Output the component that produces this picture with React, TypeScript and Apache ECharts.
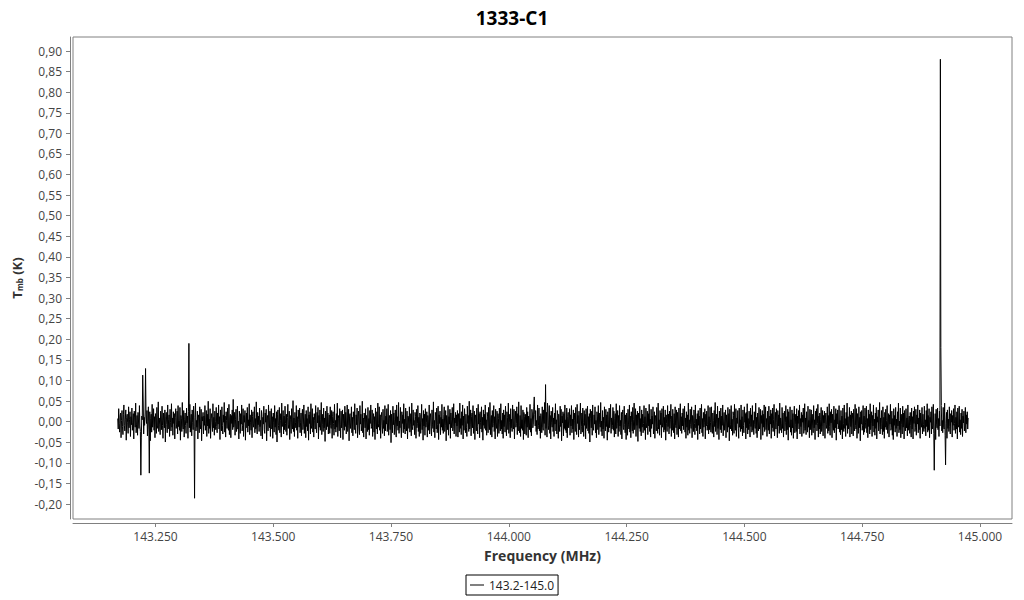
import React, { useEffect, useRef } from "react";
import * as echarts from "echarts";

const TITLE = "1333-C1";
const SERIES_NAME = "143.2-145.0";
const FREQ_START = 143.17; // MHz, first channel
const FREQ_STEP = 0.001; // MHz per channel
const NOISE_UNIT = 0.0015; // K per count in NOISE below
const Y_TICKS = [-0.2, -0.15, -0.1, -0.05, 0, 0.05, 0.1, 0.15, 0.2, 0.25, 0.3, 0.35, 0.4, 0.45, 0.5, 0.55, 0.6, 0.65, 0.7, 0.75, 0.8, 0.85, 0.9];
const X_TICKS = [143.25, 143.5, 143.75, 144.0, 144.25, 144.5, 144.75, 145.0];

// baseline noise, counts of 1.5 mK, one value per channel
const NOISE = [
  5,-12,21,-3,-17,9,14,-26,2,18,-8,-21,11,27,-6,-15,4,19,-30,7,12,-2,-19,24,-10,3,16,-24,8,-5,
  22,-14,-1,13,-28,17,6,-9,30,-18,-4,10,-22,15,1,-11,26,-7,-16,20,-25,9,3,-13,35,-20,7,-6,14,-29,
  11,-3,18,-23,0,24,-12,-8,16,-31,5,12,-17,28,-9,-2,21,-14,8,-26,13,4,-19,23,-7,-11,32,-16,6,-4,
  -21,17,9,-13,25,-6,-27,14,2,-10,19,-33,8,15,-5,-18,27,-12,3,11,-24,20,-1,-15,29,-9,6,-22,16,-3,
  13,-28,7,21,-11,-4,17,-20,26,-8,1,-14,23,-30,10,5,-16,31,-7,-12,18,-25,4,14,-6,-19,22,-2,9,-27,
  16,-5,-10,28,-17,3,12,-23,19,-1,-13,25,-8,-21,7,30,-15,2,-9,17,-28,11,6,-18,24,-4,-12,20,-31,8,
  1,15,-20,9,-6,26,-14,-3,18,-24,12,-7,33,-19,4,-11,21,-27,5,13,-2,-16,29,-10,7,-22,17,0,-13,23,
  -8,-18,14,-4,27,-12,8,-29,19,3,-15,24,-6,-20,11,-1,31,-17,9,-25,16,2,-11,22,-7,-14,28,-21,6,12,
  -26,10,-3,19,-13,36,-9,-5,15,-22,4,20,-16,-8,25,-12,1,-28,17,7,-19,13,-4,27,-15,-6,21,-24,10,-1,
  18,-30,6,14,-10,23,-17,3,-7,29,-21,11,-2,-14,19,-26,8,16,-9,-3,24,-18,5,-12,32,-11,-20,15,-5,9,
  -16,22,-8,2,-23,18,12,-28,7,-4,25,-13,-19,14,-1,20,-31,6,10,-15,27,-7,-10,17,-24,3,21,-12,8,-27,
  14,-2,-17,26,-9,5,-21,16,-33,11,19,-6,-14,23,-18,2,13,-25,30,-8,-4,18,-20,9,-13,25,-3,-16,12,-22,
  7,28,-11,-5,17,-29,10,4,-19,21,-7,-12,34,-16,6,-24,15,-1,-10,26,-14,8,-27,19,3,-9,22,-18,-2,14,
  -23,9,20,-13,-4,27,-19,1,12,-26,18,-8,5,-15,24,-30,11,-3,16,-20,29,-11,-6,21,-17,7,-25,13,2,-12,
  26,-7,-18,15,-2,23,-28,10,-9,19,-14,3,31,-21,-5,12,-16,22,-10,6,-32,17,-1,-13,25,-8,14,-20,4,11,
  -19,24,-6,-11,18,-27,8,16,-3,-22,28,-12,2,-17,13,-9,30,-24,5,10,-15,21,-4,-26,17,-10,6,19,-29,12,
  -3,-14,25,-8,15,-20,1,27,-16,-6,20,-31,9,13,-11,-2,24,-18,7,-23,16,4,-13,29,-9,-19,11,-5,22,-26,
  8,17,-12,-21,26,-4,12,-15,-7,33,-18,6,-25,14,3,-10,21,-28,10,-1,-16,23,-13,5,-22,18,-3,27,-11,-8,
  19,-24,2,13,-17,8,-29,22,-5,-12,16,-20,30,-9,-3,24,-14,11,-27,7,15,-6,-19,20,-11,2,-23,26,-15,9,
  -4,21,-16,-2,28,-22,5,10,-13,18,-34,12,-8,-18,25,-5,14,-21,3,19,-12,-25,27,-7,8,-14,31,-19,1,-10,
  23,-9,-26,16,-3,11,-18,29,-12,4,-20,22,-1,-15,17,-28,9,6,-11,24,-17,-4,13,-23,30,-8,-13,19,-6,2,
  -21,15,8,-27,20,-10,-3,26,-16,7,-24,14,11,-19,-2,28,-13,5,-30,18,-7,12,-22,21,-9,-1,16,-25,10,3,
  -14,27,-20,6,13,-8,-23,19,-4,-11,32,-17,2,-26,15,9,-12,22,-18,-5,25,-29,11,-3,17,-21,7,-9,28,-14,
  4,-19,12,24,-16,-6,18,-31,10,1,-13,26,-22,8,-4,20,-27,14,-10,3,23,-15,-8,29,-20,6,-2,15,-24,11,
  -7,18,-25,13,-1,-17,30,-11,5,-21,16,-6,27,-28,9,-14,21,2,-18,12,-9,-24,25,-3,10,-16,33,-12,-5,19,
  -23,8,14,-10,26,-19,-2,17,-29,11,6,-15,22,-8,-20,28,-4,13,-26,16,-1,-12,24,-17,7,-30,19,-6,12,-11,
  27,-14,3,-22,15,9,-18,23,-7,-13,31,-21,4,10,-25,18,-9,-3,26,-16,8,-28,20,-2,-11,17,-24,13,5,-19,
  22,-5,-15,29,-12,2,-20,14,-27,19,-8,11,-17,25,-4,-23,16,7,-13,30,-19,-1,12,-26,21,-10,4,-16,27,-7,
  -12,20,-28,6,17,-9,-3,24,-21,13,-15,32,-6,-18,10,-24,26,-11,3,-14,19,-29,15,8,-20,12,-4,-22,23,-9,
  16,-26,9,-1,-13,28,-17,5,-23,20,14,-10,-4,25,-30,11,-7,18,-16,2,-21,27,-12,-6,22,-15,9,-27,13,1,
  -18,24,-9,-14,19,-3,31,-22,7,-11,15,-25,4,21,-13,-6,26,-19,10,-28,17,-2,-9,23,-16,6,-24,14,-4,29,
  -15,3,-20,18,10,-27,12,-5,-16,25,-8,20,-31,9,-2,16,-23,13,-11,27,-14,3,-18,22,-26,8,15,-10,-3,21,
  -22,11,-7,26,-18,4,-12,19,-29,14,2,-16,23,-9,-21,28,-3,10,-25,17,-13,6,30,-20,-8,14,-17,22,-1,-24,
  18,-6,12,-28,21,-11,-2,25,-15,8,-19,13,-33,20,5,-10,17,-22,27,-7,-14,11,-4,24,-18,2,-26,16,9,-13,
  26,-21,-5,14,-9,31,-16,1,-23,18,-12,7,-27,24,-3,-15,20,-8,11,-30,16,4,-17,22,-10,-1,28,-19,6,-12,
  -6,23,-14,17,-25,5,13,-20,29,-11,-3,18,-24,10,-16,26,-7,2,-21,15,-28,12,19,-9,-13,25,-5,-18,11,-29,
  14,7,-22,20,-4,-12,27,-17,9,-26,16,-1,-15,23,-19,3,30,-13,-8,21,-24,11,-6,17,-32,14,2,-11,25,-16,
  5,-23,19,-9,12,-18,-3,26,-14,8,-29,22,-10,-2,17,-21,13,-7,28,-16,4,-25,20,-11,9,-4,24,-20,-13,16,
  -27,10,6,-15,23,-8,-19,30,-12,3,-22,18,-5,14,-26,21,-9,-1,25,-17,7,-13,19,-30,11,-3,-16,26,-8,12,
  -20,17,-11,4,28,-24,9,-14,20,-2,-18,13,-28,24,-6,-10,19,-21,15,1,-25,22,-12,-4,29,-15,8,-19,14,-7,
  21,-13,-2,25,-17,6,-27,16,-9,11,-22,30,-14,3,-19,20,-5,-11,24,-26,10,7,-16,19,-3,-21,27,-10,4,-15,
  13,-29,18,-6,9,-20,22,-12,-4,28,-18,5,-24,15,-9,-2,21,-28,12,-7,17,-14,-5,26,-20,8,-13,23,-1,-17,
  24,-10,-19,14,2,-25,18,-8,31,-16,-3,12,-21,25,-11,6,-29,17,-4,-13,22,-18,9,-6,27,-23,1,15,-14,-8,
  19,-26,11,-2,-17,23,-9,13,-31,20,-5,-12,26,-15,4,-22,16,10,-19,28,-7,-14,21,-24,6,-3,18,-11,-27,22,
  -9,3,-16,27,-12,8,-23,19,-6,-18,24,-1,13,-28,15,-10,29,-20,5,-13,17,-4,-25,22,-8,11,-17,26,-14,2,
  -21,16,-5,-11,30,-19,7,-26,14,1,-15,23,-12,-7,20,-29,10,-3,18,-22,12,-9,27,-16,-2,24,-13,5,-24,17,
  -6,-14,25,-20,9,-4,19,-27,13,-10,22,-16,3,28,-23,-8,15,-12,21,-1,-26,18,-7,11,-19,30,-14,6,-3,-18,
  23,-11,14,-25,4,17,-15,-2,26,-21,8,-13,20,-30,16,-6,-9,24,-17,3,-22,19,-10,13,-27,7,25,-18,-5,12,
  -16,21,-28,9,-3,18,-12,27,-20,5,-8,15,-24,11,-1,22,-19,-11,29,-14,6,-21,16,-4,-17,25,-9,2,-26,20,
  -13,8,19,-22,12,-7,-18,26,-10,3,-29,17,-5,21,-15,-3,28,-25,9,-12,14,-20,4,23,-16,-8,18,-23,10,-2,
  17,-27,6,14,-11,-5,24,-19,10,-15,29,-8,-22,16,-2,20,-26,12,-9,-14,25,-18,3,-10,21,-30,13,-4,19,-12,
  -7,26,-17,2,-21,18,-13,9,-28,22,-3,-16,27,-11,5,-24,15,-6,30,-19,8,-12,-1,23,-25,11,-8,17,-20,4,
  14,-23,20,-9,-15,28,-6,-12,21,-27,13,1,-19,24,-10,7,-31,16,-4,18,-14,-6,26,-21,9,-17,22,-2,-11,25,
  -18,5,-26,19,-8,12,-20,29,-13,-3,16,-24,10,-7,27,-17,4,-22,14,-11,23,-28,8,-1,19,-15,-5,31,-20,6,
  -12,18,-3,-21,24,-16,7,-27,15,-9,20,-13,2,26,-19,-8,13,-25,11,-4,28,-14,-10,17,-22,5,-29,21,-6,10,
  -17,23,-11,4,-24,16,-7,30,-18,1,-13,22,-26,12,-5,-20,25,-9,14,-28,18,-2,-15,21,-10,6,-23,27,-14,3,
  9,-19,15,-6,-25,22,-12,8,-28,17,-3,24,-16,-10,20,-22,11,-4,27,-18,6,-13,19,-27,14,-2,-9,23,-20,12,
  -5,-16,25,-11,3,-23,18,-8,29,-17,10,-14,21,-26,7,-1,16,-20,24,-12,-6,28,-19,9,-15,13,-29,20,-4,-10,
  22,-13,5,-24,17,-7,11,-21,26,-15,2,-18,23,-9,-12,30,-22,8,-3,15,-27,19,-11,4,-16,24,-8,-20,13,-1,
  18,-25,10,-6,21,-14,-3,27,-19,7,-12,16,-28,22,-5,-9,25,-17,3,-21,14,-11,20,-24,9,-2,17,-15,-7,23,
  -18,11,-4,16,-12,6,
];

// spectral features: frequency (MHz), Tmb (K)
const SPIKE_FREQ = [143.219, 143.223, 143.229, 143.237, 143.321, 143.333, 144.054, 144.078, 144.082, 144.903, 144.916, 144.917, 144.927];
const SPIKE_TMB = [-0.13, 0.113, 0.129, -0.125, 0.19, -0.186, 0.06, 0.09, 0.045, -0.118, 0.88, 0.18, -0.105];

export default function App() {
  const ref = useRef<HTMLDivElement>(null);
  useEffect(() => {
    if (!ref.current) return;
    const chart = echarts.init(ref.current, null, { renderer: "svg" });
    const values = NOISE.map((v) => v * NOISE_UNIT);
    SPIKE_FREQ.forEach((f, k) => {
      const idx = Math.round((f - FREQ_START) / FREQ_STEP);
      if (idx >= 0 && idx < values.length) values[idx] = SPIKE_TMB[k];
    });
    const data = values.map((v, i) => [FREQ_START + i * FREQ_STEP, v]);
    const font = "'Open Sans', 'Noto Sans', sans-serif";
    chart.setOption({
      animation: false,
      backgroundColor: "#fff",
      title: {
        text: TITLE,
        left: "center",
        top: 3,
        textStyle: { fontFamily: font, fontSize: 19, fontWeight: "bold", color: "#000" },
      },
      legend: {
        data: [SERIES_NAME],
        left: 466,
        top: 575,
        padding: [4, 4, 4, 4],
        borderColor: "#000",
        borderWidth: 1,
        itemWidth: 14,
        itemHeight: 1,
        itemGap: 4,
        icon: "rect",
        textStyle: { fontFamily: font, fontSize: 12, color: "#222" },
      },
      grid: {
        left: 73,
        right: 12,
        top: 37,
        bottom: 81,
        show: true,
        borderColor: "#808080",
        borderWidth: 1,
      },
      xAxis: {
        type: "value",
        min: 143.075,
        max: 145.068,
        offset: 4,
        name: "Frequency (MHz)",
        nameLocation: "middle",
        nameGap: 25,
        nameTextStyle: { fontFamily: font, fontSize: 14, fontWeight: "bold", color: "#333" },
        axisLine: { show: true, onZero: false, lineStyle: { color: "#808080" } },
        axisTick: { show: true, length: 4, lineStyle: { color: "#808080" }, customValues: X_TICKS },
        axisLabel: {
          fontFamily: font,
          fontSize: 12,
          color: "#444",
          margin: 7,
          customValues: X_TICKS,
          formatter: (v: number) => v.toFixed(3),
        },
        splitLine: { show: false },
      },
      yAxis: {
        type: "value",
        min: -0.2364,
        max: 0.934,
        offset: 3,
        name: "{a|T}{s|mb}{a| (K)}",
        nameLocation: "middle",
        nameGap: 37,
        nameRotate: 90,
        nameTextStyle: {
          rich: {
            a: { fontFamily: font, fontSize: 13, fontWeight: "bold", color: "#333" },
            s: { fontFamily: font, fontSize: 8, fontWeight: "bold", color: "#333", verticalAlign: "bottom", padding: [6, 0, 0, 0] },
          },
        },
        axisLine: { show: true, onZero: false, lineStyle: { color: "#808080" } },
        axisTick: { show: true, length: 4, lineStyle: { color: "#808080" }, customValues: Y_TICKS },
        axisLabel: {
          fontFamily: font,
          fontSize: 12,
          color: "#444",
          margin: 8,
          customValues: Y_TICKS,
          formatter: (v: number) => v.toFixed(2).replace(".", ","),
        },
        splitLine: { show: false },
      },
      series: [
        {
          name: SERIES_NAME,
          type: "line",
          data,
          showSymbol: false,
          symbol: "none",
          lineStyle: { color: "#000", width: 1 },
          itemStyle: { color: "#000" },
        },
      ],
    });
    return () => chart.dispose();
  }, []);
  return <div ref={ref} style={{ width: 1024, height: 600, position: "absolute", left: 0, top: 0 }} />;
}
